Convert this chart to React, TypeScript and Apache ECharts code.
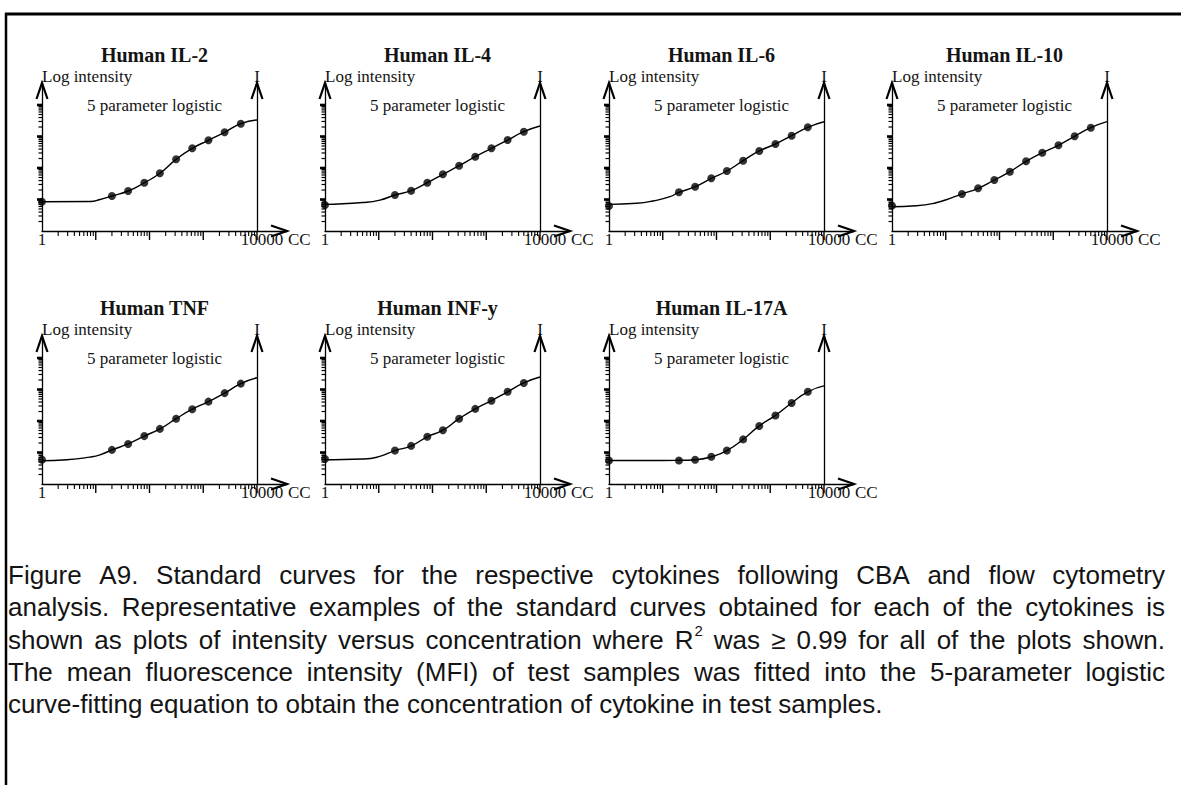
import { useEffect, useRef } from 'react';
import * as echarts from 'echarts';

// ---------------- data ----------------
const PANEL_TITLES = ['Human IL-2', 'Human IL-4', 'Human IL-6', 'Human IL-10', 'Human TNF', 'Human INF-y', 'Human IL-17A'];
const SUBTITLE = '5 parameter logistic';
const Y_AXIS_NAME = 'Log intensity';
const RIGHT_AXIS_NAME = 'I';
const X_AXIS_NAME = 'CC';
const X_TICK_LABELS = [1, 10000];

// standard concentrations (the blank standard is drawn at 1)
const STANDARD_CONC = [1, 20, 40, 80, 156, 312.5, 625, 1250, 2500, 5000];

// measured intensities (MFI) of the standards, one list per cytokine
const IL2_MFI = [85, 129, 186, 341, 679, 1888, 4220, 7570, 13590, 25480];
const IL4_MFI = [67, 139, 190, 341, 631, 1183, 2284, 4220, 7740, 14200];
const IL6_MFI = [62, 169, 255, 471, 803, 1706, 3467, 5780, 10600, 19600];
const IL10_MFI = [64, 150, 227, 416, 763, 1632, 3060, 5260, 10150, 19000];
const TNF_MFI = [59, 121, 187, 332, 562, 1183, 2371, 4120, 7680, 15400];
const INFG_MFI = [62, 115, 162, 316, 511, 1183, 2430, 4420, 8460, 16150];
const IL17A_MFI = [56, 56, 59, 73, 115, 261, 698, 1503, 3740, 8460];

// fitted 5PL curves: [concentration, intensity]
const IL2_FIT = [[1, 85], [8, 86], [12, 100], [20, 129], [40, 186], [80, 340], [156, 680], [312.5, 1880], [625, 4200], [1250, 7600], [2500, 13600], [5000, 25500], [10000, 33400]];
const IL4_FIT = [[1, 70], [5, 80], [10.5, 96], [20, 139], [40, 190], [80, 341], [156, 631], [312.5, 1183], [625, 2284], [1250, 4220], [2500, 7740], [5000, 14200], [10000, 21500]];
const IL6_FIT = [[1, 70], [3.3, 76], [6.6, 90], [13.6, 123], [20, 169], [40, 255], [80, 471], [156, 803], [312.5, 1706], [625, 3467], [1250, 5780], [2500, 10600], [5000, 19600], [10000, 29500]];
const IL10_FIT = [[1, 59], [2.8, 63], [6.6, 79], [13.5, 117], [20, 150], [40, 227], [80, 416], [156, 763], [312.5, 1632], [625, 3060], [1250, 5260], [2500, 10150], [5000, 19000], [10000, 29500]];
const TNF_FIT = [[1, 55], [2.9, 59], [7.8, 71.5], [12, 84.5], [20, 121], [40, 187], [80, 332], [156, 562], [312.5, 1183], [625, 2371], [1250, 4120], [2500, 7680], [5000, 15400], [10000, 23700]];
const INFG_FIT = [[1, 59], [5.1, 62], [10.5, 75], [20, 115], [40, 162], [80, 316], [156, 511], [312.5, 1183], [625, 2430], [1250, 4420], [2500, 8460], [5000, 16150], [10000, 24900]];
const IL17A_FIT = [[1, 56], [10, 56], [20, 56.5], [40, 59], [80, 73], [156, 115], [312.5, 261], [625, 698], [1250, 1503], [2500, 3740], [5000, 8460], [10000, 13000]];

const PANEL_MFI = [IL2_MFI, IL4_MFI, IL6_MFI, IL10_MFI, TNF_MFI, INFG_MFI, IL17A_MFI];
const PANEL_FIT = [IL2_FIT, IL4_FIT, IL6_FIT, IL10_FIT, TNF_FIT, INFG_FIT, IL17A_FIT];

// axis tick values
const X_DECADES = [1, 10, 100, 1000];
const Y_DECADES = [10, 100, 1000, 10000];
const MINOR_MULT = [2, 3, 4, 5, 6, 7, 8, 9];

const CAPTION_LINES = [
  'Figure A9. Standard curves for the respective cytokines following CBA and flow cytometry',
  'analysis. Representative examples of the standard curves obtained for each of the cytokines is',
  'shown as plots of intensity versus concentration where R^2 was \u2265 0.99 for all of the plots shown.',
  'The mean fluorescence intensity (MFI) of test samples was fitted into the 5-parameter logistic',
  'curve-fitting equation to obtain the concentration of cytokine in test samples.',
];

// ---------------- layout ----------------
const W = 1181;
const H = 785;
const PANEL_LEFT = [42, 325, 609, 892, 42, 325, 609];
const ROW_TOP = [83, 336];
const PLOT_H = 148;
const DECADE_X_PX = 53.75;
const DECADE_Y_PX = 31.5;
const ARROW_EXT = 30;
const GRID_W = 4 * DECADE_X_PX + ARROW_EXT;
const XMAX = Math.pow(10, 4 + ARROW_EXT / DECADE_X_PX);
const YMIN = 10;
const YMAX = Math.pow(10, 1 + PLOT_H / DECADE_Y_PX);

const SERIF = "'Liberation Serif', 'Times New Roman', serif";
const SANS = "'Liberation Sans', Arial, sans-serif";
const INK = '#141414';

const CAP_LEFT = 8;
const CAP_RIGHT = 1165;
const CAP_TOP = 575;
const CAP_PITCH = 32.3;
const CAP_SIZE = 26;
const SUP_SIZE = 15;

function buildTickData() {
  const d: number[][] = [];
  X_DECADES.forEach((dec) => {
    MINOR_MULT.forEach((m) => d.push([dec * m, YMIN, 1]));
    d.push([dec * 10, YMIN, 0]);
  });
  Y_DECADES.forEach((dec) => {
    MINOR_MULT.forEach((m) => d.push([1, dec * m, 3]));
    d.push([1, dec * 10, 2]);
  });
  d.push([1, YMAX, 4]);
  d.push([X_TICK_LABELS[1], YMAX, 4]);
  d.push([XMAX, YMIN, 5]);
  return d;
}

function renderTick(_params: any, api: any) {
  const k = api.value(2);
  const p = api.coord([api.value(0), api.value(1)]);
  const x = p[0];
  const y = p[1];
  const st = { stroke: '#000', lineWidth: 1.1, fill: null };
  if (k === 0) return { type: 'line', shape: { x1: x, y1: y, x2: x, y2: y + 9 }, style: { ...st, lineWidth: 1.4 } };
  if (k === 1) return { type: 'line', shape: { x1: x, y1: y, x2: x, y2: y + 5 }, style: st };
  if (k === 2) return { type: 'line', shape: { x1: x - 5, y1: y, x2: x, y2: y }, style: { ...st, lineWidth: 2.6 } };
  if (k === 3) return { type: 'line', shape: { x1: x - 3.5, y1: y, x2: x, y2: y }, style: { ...st, lineWidth: 1.2 } };
  if (k === 4) return { type: 'polyline', shape: { points: [[x - 5.5, y + 16], [x, y], [x + 5.5, y + 16]] }, style: { ...st, lineWidth: 2.2 } };
  return { type: 'polyline', shape: { points: [[x - 16, y - 5.5], [x, y], [x - 16, y + 5.5]] }, style: { ...st, lineWidth: 2.2 } };
}

function buildCaption() {
  const canvas = document.createElement('canvas');
  const ctx = canvas.getContext('2d') as CanvasRenderingContext2D;
  const capFont = `${CAP_SIZE}px "Liberation Sans"`;
  const supFont = `${SUP_SIZE}px "Liberation Sans"`;
  const measure = (t: string, f: string) => {
    ctx.font = f;
    return ctx.measureText(t).width;
  };
  const els: any[] = [];
  const txt = (x: number, y: number, text: string, size: number) => ({
    type: 'text', x, y, silent: true,
    style: { text, fontSize: size, fontFamily: SANS, fill: INK, align: 'left', verticalAlign: 'middle', textAlign: 'left', textVerticalAlign: 'middle' },
  });
  CAPTION_LINES.forEach((line, li) => {
    const words = line.split(' ');
    const widths = words.map((w) => {
      if (w.includes('^')) {
        const [b, s] = w.split('^');
        return measure(b, capFont) + 1 + measure(s, supFont);
      }
      return measure(w, capFont);
    });
    const total = widths.reduce((a, b) => a + b, 0);
    const justify = li < CAPTION_LINES.length - 1;
    const gap = justify ? (CAP_RIGHT - CAP_LEFT - total) / (words.length - 1) : measure(' ', capFont);
    const y = CAP_TOP + li * CAP_PITCH;
    let x = CAP_LEFT;
    words.forEach((w, wi) => {
      if (w.includes('^')) {
        const [b, s] = w.split('^');
        els.push(txt(x, y, b, CAP_SIZE));
        els.push(txt(x + measure(b, capFont) + 1, y - 9, s, SUP_SIZE));
      } else {
        els.push(txt(x, y, w, CAP_SIZE));
      }
      x += widths[wi] + gap;
    });
  });
  return els;
}

function buildOption() {
  const grid: any[] = [];
  const xAxis: any[] = [];
  const yAxis: any[] = [];
  const series: any[] = [];
  const graphic: any[] = [];
  const tickData = buildTickData();
  const nameStyle = { fontFamily: SERIF, fontSize: 17, color: INK };

  PANEL_TITLES.forEach((title, i) => {
    const left = PANEL_LEFT[i];
    const top = ROW_TOP[i < 4 ? 0 : 1];
    grid.push({ left, top, width: GRID_W, height: PLOT_H, containLabel: false, outerBoundsMode: 'none' });
    xAxis.push({
      type: 'log', logBase: 10, gridIndex: i, min: 1, max: XMAX,
      axisLine: { show: true, onZero: false, lineStyle: { color: '#000', width: 1.3 } },
      axisTick: { show: false }, splitLine: { show: false }, minorTick: { show: false },
      axisLabel: {
        show: true, margin: 0, fontFamily: SERIF, fontSize: 17, color: INK,
        formatter: (v: number) => {
          const r = Math.round(v);
          if (r === X_TICK_LABELS[0]) return String(r);
          if (r === X_TICK_LABELS[1]) return '{r|' + r + '}';
          return '';
        },
        rich: { r: { fontFamily: SERIF, fontSize: 17, color: INK, padding: [0, 0, 0, 10] } },
      },
      name: X_AXIS_NAME, nameLocation: 'end', nameGap: 1, nameMoveOverlap: false,
      nameTextStyle: { ...nameStyle, align: 'left', verticalAlign: 'top' },
    });
    yAxis.push({
      type: 'log', logBase: 10, gridIndex: i, min: YMIN, max: YMAX,
      axisLine: { show: true, onZero: false, lineStyle: { color: '#000', width: 1.3 } },
      axisTick: { show: false }, axisLabel: { show: false }, splitLine: { show: false },
      name: Y_AXIS_NAME, nameLocation: 'end', nameGap: -2, nameMoveOverlap: false,
      nameTextStyle: { ...nameStyle, align: 'left', verticalAlign: 'bottom' },
    });
    yAxis.push({
      type: 'log', logBase: 10, gridIndex: i, min: YMIN, max: YMAX, position: 'right', offset: -ARROW_EXT,
      axisLine: { show: true, onZero: false, lineStyle: { color: '#000', width: 1.3 } },
      axisTick: { show: false }, axisLabel: { show: false }, splitLine: { show: false },
      name: RIGHT_AXIS_NAME, nameLocation: 'end', nameGap: -2, nameMoveOverlap: false,
      nameTextStyle: { ...nameStyle, align: 'center', verticalAlign: 'bottom' },
    });
    series.push({
      type: 'line', name: title + ' fit', xAxisIndex: i, yAxisIndex: 2 * i,
      data: PANEL_FIT[i], showSymbol: false, smooth: 0.55,
      lineStyle: { color: '#000', width: 1.4 }, silent: true, z: 2,
    });
    series.push({
      type: 'scatter', name: title, xAxisIndex: i, yAxisIndex: 2 * i,
      data: STANDARD_CONC.map((c, j) => [c, PANEL_MFI[i][j]]),
      symbol: 'circle', symbolSize: 8, itemStyle: { color: '#000' }, silent: true, z: 3,
    });
    series.push({
      type: 'custom', xAxisIndex: i, yAxisIndex: 2 * i, data: tickData,
      encode: { x: 0, y: 1 }, renderItem: renderTick, clip: false, silent: true, z: 4,
    });
    const cx = left + 2 * DECADE_X_PX + 5;
    graphic.push({ type: 'text', x: cx, y: top - 28, silent: true, style: { text: title, fontSize: 20, fontWeight: 'bold', fontFamily: SERIF, fill: INK, align: 'center', verticalAlign: 'middle', textAlign: 'center', textVerticalAlign: 'middle' } });
    graphic.push({ type: 'text', x: cx, y: top + 22, silent: true, style: { text: SUBTITLE, fontSize: 17, fontFamily: SERIF, fill: INK, align: 'center', verticalAlign: 'middle', textAlign: 'center', textVerticalAlign: 'middle' } });
  });

  graphic.push({ type: 'line', silent: true, shape: { x1: 5, y1: 14, x2: W, y2: 14 }, style: { stroke: '#000', lineWidth: 3 } });
  graphic.push({ type: 'line', silent: true, shape: { x1: 6, y1: 13, x2: 6, y2: H }, style: { stroke: '#000', lineWidth: 2.5 } });
  buildCaption().forEach((e) => graphic.push(e));

  return {
    animation: false,
    backgroundColor: '#fff',
    grid, xAxis, yAxis, series, graphic,
  };
}

export default function App() {
  const ref = useRef<HTMLDivElement>(null);
  useEffect(() => {
    if (!ref.current) return;
    const chart = echarts.init(ref.current, undefined, { renderer: 'svg' });
    chart.setOption(buildOption() as any);
    return () => chart.dispose();
  }, []);
  return <div ref={ref} style={{ position: 'fixed', left: 0, top: 0, width: W, height: H, background: '#fff' }} />;
}
